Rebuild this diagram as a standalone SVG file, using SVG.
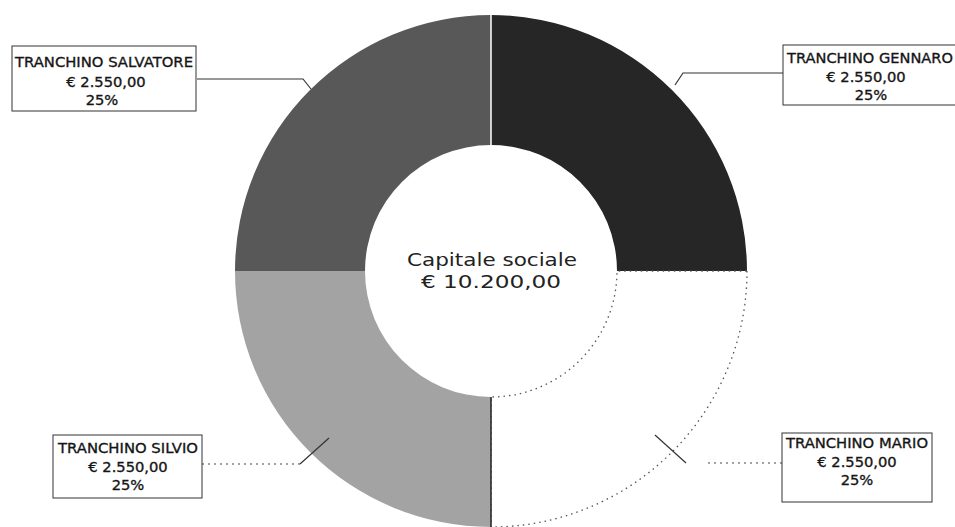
<svg xmlns="http://www.w3.org/2000/svg" width="955" height="527" viewBox="0 0 955 527">
<style>
.lbl{font-family:"DejaVu Sans",Verdana,sans-serif;font-size:14.7px;fill:#151515;stroke:#151515;stroke-width:0.35;text-anchor:middle}
.ctr{font-family:"DejaVu Sans",Verdana,sans-serif;font-size:17px;fill:#222;text-anchor:middle}
.box{fill:#fff;stroke:#333;stroke-width:1}
.con{fill:none;stroke:#333;stroke-width:1.2}
.dot{fill:none;stroke:#444;stroke-width:1.2;stroke-dasharray:2 4}
</style>
<rect width="955" height="527" fill="#fff"/>
<g id="slice-salvatore"><path d="M235 271A256 256 0 0 1 491 15L491 145A126 126 0 0 0 365 271Z" fill="#585858"/></g>
<g id="slice-gennaro"><path d="M491 15A256 256 0 0 1 747 271L617 271A126 126 0 0 0 491 145Z" fill="#262626"/></g>
<g id="slice-mario"><path d="M747 271A256 256 0 0 1 491 527L491 397A126 126 0 0 0 617 271Z" fill="#fff" stroke="#555" stroke-width="1.3" stroke-dasharray="1.5 4"/></g>
<g id="slice-silvio"><path d="M491 527A256 256 0 0 1 235 271L365 271A126 126 0 0 0 491 397Z" fill="#a3a3a3"/><line x1="491" y1="397" x2="491" y2="527" stroke="#222" stroke-width="1.5"/></g>
<line x1="491" y1="15" x2="491" y2="145" stroke="#fff" stroke-width="1.5"/>
<g id="connectors">
<polyline class="con" points="197,79 303,79 311,89"/>
<polyline class="con" points="783,73 683,73 675,85"/>
<line class="dot" x1="202" y1="464" x2="300" y2="464"/>
<line class="con" x1="300" y1="464" x2="329" y2="438"/>
<line class="dot" x1="782" y1="463" x2="707" y2="463"/>
<line class="con" x1="686" y1="463" x2="655" y2="435"/>
</g>
<g id="center">
<text class="ctr" x="492" y="266" textLength="170" lengthAdjust="spacingAndGlyphs">Capitale sociale</text>
<text class="ctr" x="491" y="288" textLength="140" lengthAdjust="spacingAndGlyphs">€ 10.200,00</text>
</g>
<g id="label-salvatore">
<rect class="box" x="12" y="46" width="184" height="65"/>
<text class="lbl" x="104" y="67" textLength="178" lengthAdjust="spacingAndGlyphs">TRANCHINO SALVATORE</text>
<text class="lbl" x="106" y="87">€ 2.550,00</text>
<text class="lbl" x="102" y="105">25%</text>
</g>
<g id="label-gennaro">
<rect class="box" x="783" y="45" width="185" height="60"/>
<text class="lbl" x="870" y="63" textLength="166" lengthAdjust="spacingAndGlyphs">TRANCHINO GENNARO</text>
<text class="lbl" x="866" y="82">€ 2.550,00</text>
<text class="lbl" x="871" y="100">25%</text>
</g>
<g id="label-silvio">
<rect class="box" x="53" y="435" width="149" height="63"/>
<text class="lbl" x="128" y="453" textLength="140" lengthAdjust="spacingAndGlyphs">TRANCHINO SILVIO</text>
<text class="lbl" x="128" y="472">€ 2.550,00</text>
<text class="lbl" x="128" y="490">25%</text>
</g>
<g id="label-mario">
<rect class="box" x="782" y="433" width="150" height="69"/>
<text class="lbl" x="857" y="448" textLength="142" lengthAdjust="spacingAndGlyphs">TRANCHINO MARIO</text>
<text class="lbl" x="857" y="467">€ 2.550,00</text>
<text class="lbl" x="857" y="485">25%</text>
</g>
</svg>
